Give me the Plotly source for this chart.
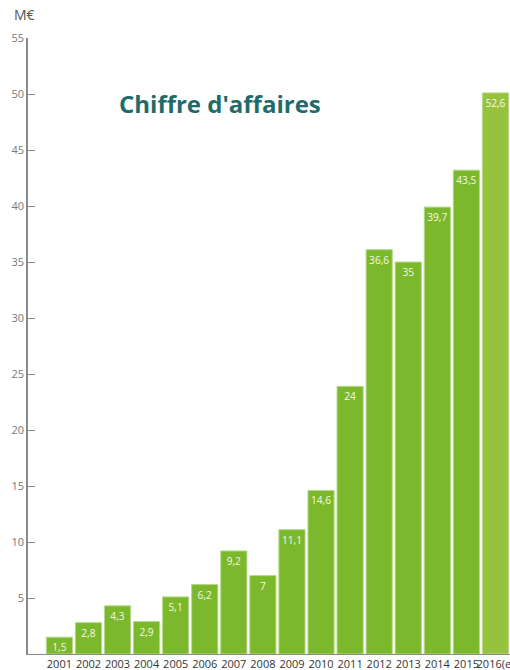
import plotly.graph_objects as go

years = ["2001", "2002", "2003", "2004", "2005", "2006", "2007", "2008",
         "2009", "2010", "2011", "2012", "2013", "2014", "2015", "2016(e)"]
# bar heights as drawn against the axis
heights = [1.5, 2.8, 4.3, 2.9, 5.1, 6.2, 9.2, 7.0,
           11.1, 14.6, 23.9, 36.1, 35.0, 39.9, 43.2, 50.1]
# printed labels
labels = ["1,5", "2,8", "4,3", "2,9", "5,1", "6,2", "9,2", "7",
          "11,1", "14,6", "24", "36,6", "35", "39,7", "43,5", "52,6"]
y_ticks = [5, 10, 15, 20, 25, 30, 35, 40, 45, 50, 55]

colors = ["#7cb82c"] * 15 + ["#97c23e"]
xs = list(range(len(years)))

fig = go.Figure()
fig.add_trace(go.Bar(
    x=xs, y=heights, text=labels,
    textposition="inside", insidetextanchor="end",
    textfont=dict(color="#f4f8ea", size=12, family="Open Sans"),
    textangle=0,
    marker=dict(color=colors, line=dict(color="#b5d98a", width=1)),
    width=0.9,
    hoverinfo="skip",
))

fig.update_layout(
    width=510, height=670,
    margin=dict(l=28, r=0, t=38, b=16),
    paper_bgcolor="white", plot_bgcolor="white",
    showlegend=False,
    uniformtext=dict(minsize=8, mode="show"),
    xaxis=dict(
        range=[-1.08, 15.5], tickmode="array", tickvals=xs, ticktext=years,
        showgrid=False, zeroline=False, showline=True, linecolor="#8a8a8a",
        linewidth=1, ticks="", tickangle=0,
        tickfont=dict(size=11, color="#333", family="Open Sans"),
        ticklabeloverflow="allow",
        automargin=False, fixedrange=True,
    ),
    yaxis=dict(
        range=[0, 55], tickmode="array", tickvals=y_ticks,
        showgrid=False, zeroline=False, showline=True, linecolor="#8a8a8a",
        linewidth=1.5, ticks="inside", ticklen=7, tickcolor="#8a8a8a",
        tickfont=dict(size=11, color="#777", family="Open Sans"),
        automargin=False, fixedrange=True,
    ),
    annotations=[
        dict(text="M€", xref="paper", yref="paper", x=-0.033, y=1.0,
             xanchor="left", yanchor="bottom", yshift=12, showarrow=False,
             font=dict(size=14, color="#555", family="Open Sans")),
        dict(text="<b>Chiffre d'affaires</b>", xref="paper", yref="paper",
             x=0.185, y=0.894, xanchor="left", yanchor="middle", showarrow=False,
             font=dict(size=24, color="#1e6b6a", family="Open Sans")),
    ],
)

fig.write_html("out.html")
